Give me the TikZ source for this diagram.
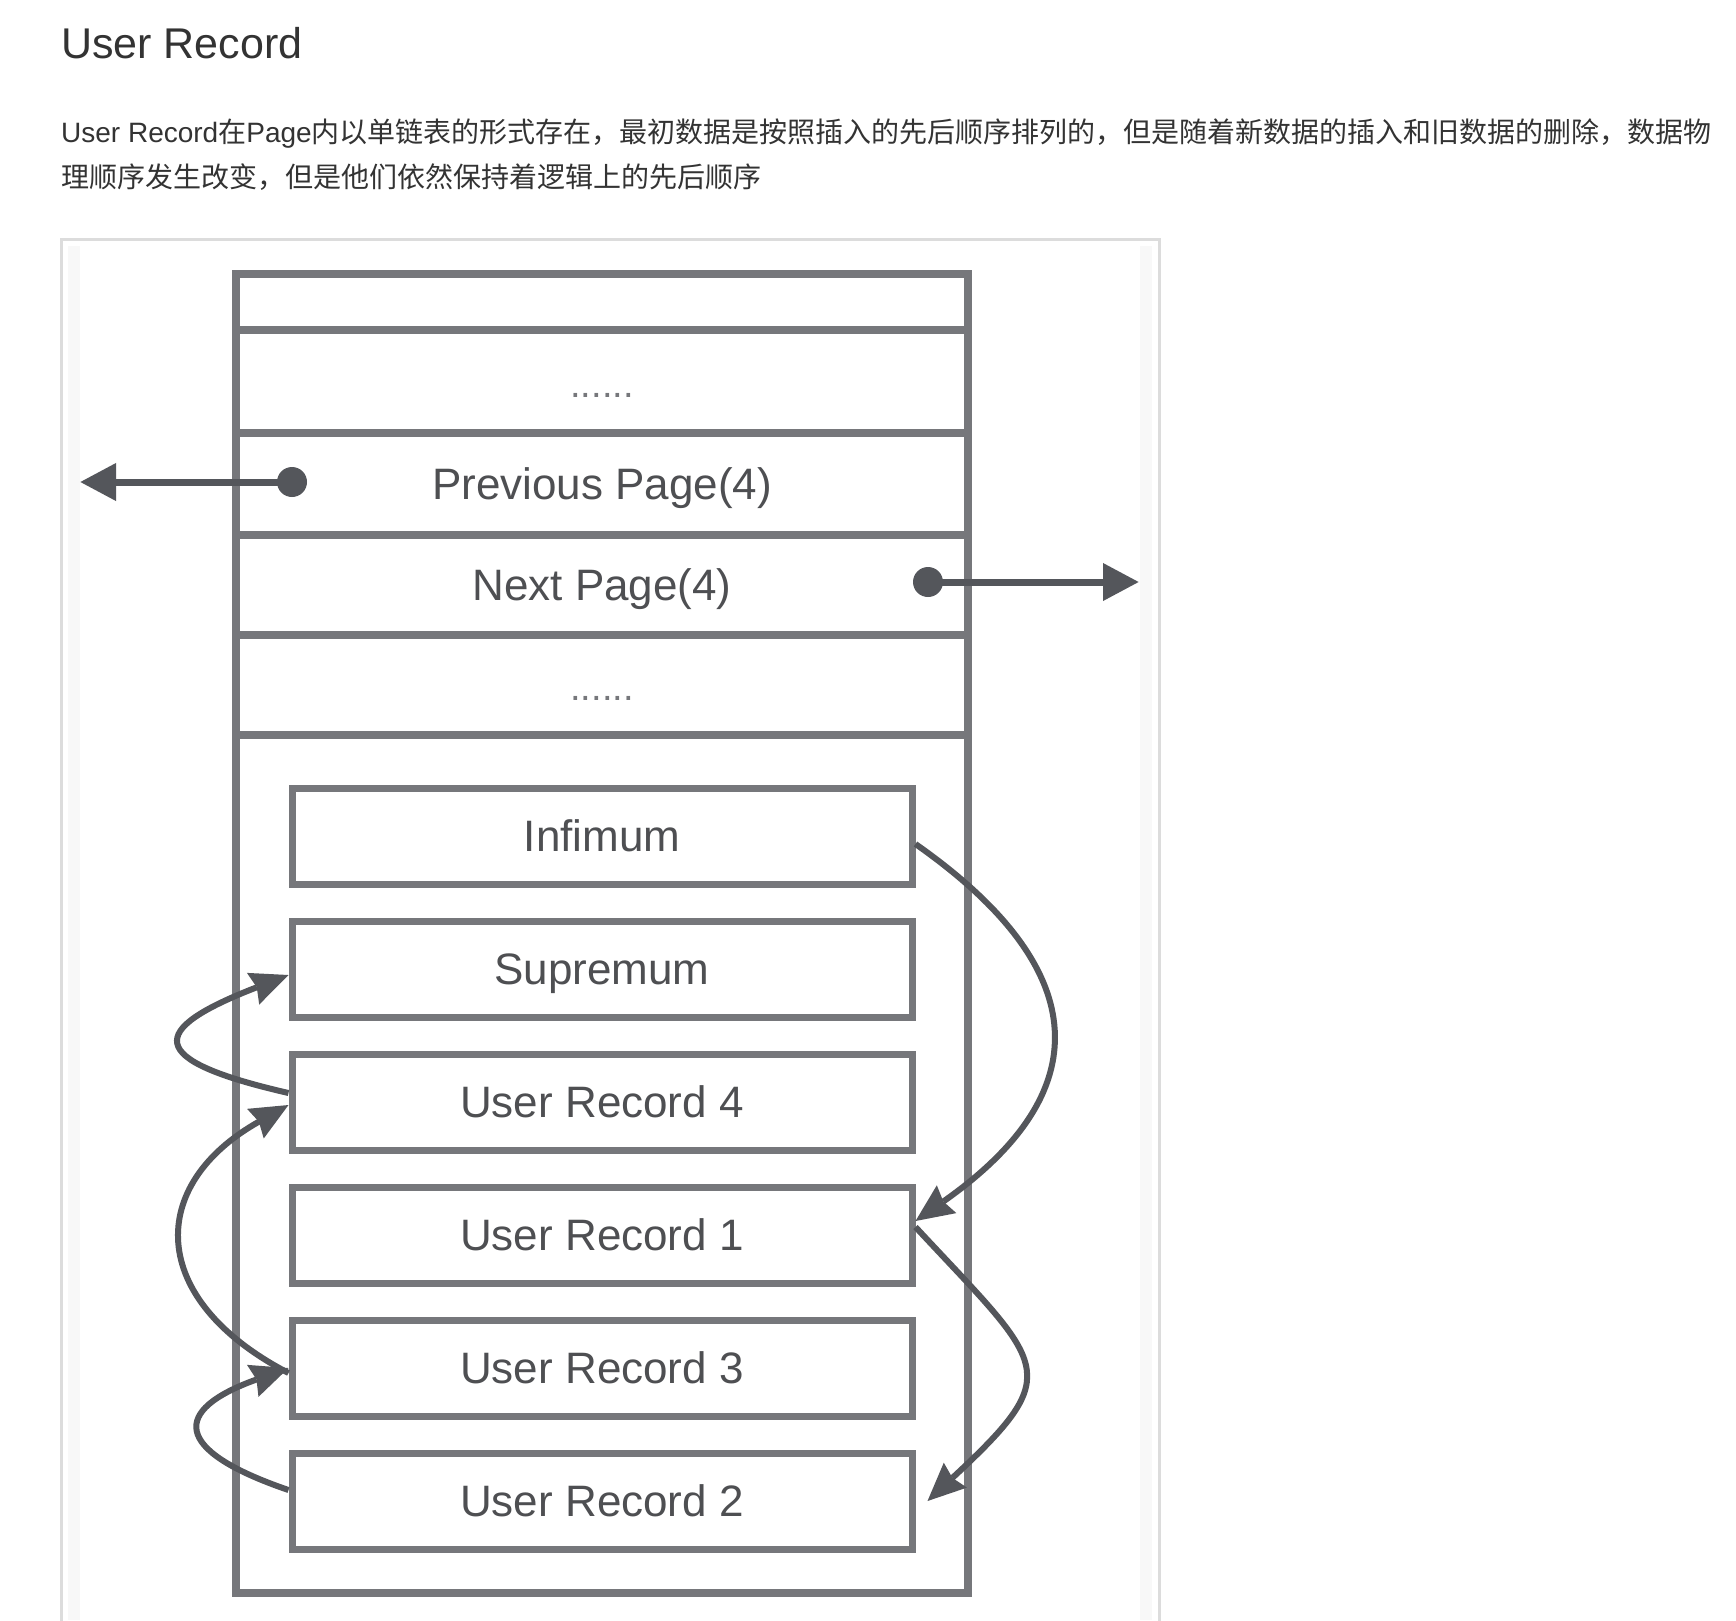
\documentclass[tikz,border=0pt]{standalone}
\usepackage{fontspec}
\setmainfont{Liberation Sans}
\newfontfamily\cjk{Noto Sans CJK SC}
\usetikzlibrary{arrows.meta}
\definecolor{txtdark}{HTML}{333333}
\definecolor{boxgray}{HTML}{76777B}
\definecolor{ptrgray}{HTML}{54565B}
\definecolor{labgray}{HTML}{4E4F52}
\definecolor{framegray}{HTML}{DCDCDC}
\definecolor{stripgray}{HTML}{F8F8F8}
\begin{document}
\begin{tikzpicture}[x=1pt,y=-1pt]
  \tikzstyle{para}=[anchor=base west, inner sep=0pt, text=txtdark, font=\fontsize{28}{34}\selectfont]
  \tikzstyle{cell}=[rectangle, draw=boxgray, line width=8pt, minimum width=732pt, inner sep=0pt,
                    text=labgray, text height=31.5pt, text depth=0pt, font=\fontsize{44}{52}\selectfont]
  \tikzstyle{dots}=[text=boxgray, font=\fontsize{38}{46}\selectfont]
  \tikzstyle{rec}=[cell, line width=7pt, minimum width=620pt, minimum height=96pt]
  \tikzstyle{link}=[draw=ptrgray, line width=6pt, -{Stealth[length=38pt, width=34pt, inset=4pt, line width=0pt]}]
  \tikzstyle{ptr}=[draw=ptrgray, line width=7pt, -{Triangle[length=36pt, width=36pt]}]

  \clip (0,0) rectangle (1736,1620);
  \fill[white] (0,0) rectangle (1736,1620);

  % heading and text
  \node[anchor=base west, inner sep=0pt, text=txtdark, font=\fontsize{43}{50}\selectfont] (title) at (61,58) {User Record};
  \node[para] (line1) at (61,142) {User Record{\cjk 在}Page{\cjk 内以单链表的形式存在，最初数据是按照插入的先后顺序排列的，但是随着新数据的插入和旧数据的删除，数据物}};
  \node[para] (line2) at (61,187) {\cjk 理顺序发生改变，但是他们依然保持着逻辑上的先后顺序};

  % image frame
  \fill[stripgray] (68,246) rectangle (80,1620);
  \fill[stripgray] (1140,246) rectangle (1152,1620);
  \draw[framegray, line width=3pt] (61,239) rectangle (1159,1660);

  % page
  \node[cell, minimum height=56.5pt] (hdr)   at (602,301.75) {};
  \node[cell, dots, minimum height=103pt] (dots1) at (602,381.5) {......};
  \node[cell, minimum height=102pt]  (prev)  at (602,484)    {Previous Page(4)};
  \node[cell, minimum height=100pt]  (next)  at (602,585)    {Next Page(4)};
  \node[cell, dots, minimum height=100pt] (dots2) at (602,685) {......};
  \node[cell, minimum height=858pt]  (body)  at (602,1164)   {};

  % records
  \node[rec] (inf) at (602,836)  {Infimum};
  \node[rec] (sup) at (602,969)  {Supremum};
  \node[rec] (ur4) at (602,1102) {User Record 4};
  \node[rec] (ur1) at (602,1235) {User Record 1};
  \node[rec] (ur3) at (602,1368) {User Record 3};
  \node[rec] (ur2) at (602,1501) {User Record 2};

  % page pointers
  \coordinate (prevdot) at (292,482);
  \coordinate (prevtip) at (80,482);
  \coordinate (nextdot) at (928,582);
  \coordinate (nexttip) at (1139,582);
  \fill[ptrgray] (prevdot) circle (15pt);
  \fill[ptrgray] (nextdot) circle (15pt);
  \draw[ptr] (prevdot) -- (prevtip);
  \draw[ptr] (nextdot) -- (nexttip);

  % record links
  \draw[link] ([yshift=-8pt]inf.east) .. controls +(181,127) and +(181,-127) .. ([yshift=14pt]ur1.east);
  \draw[link] ([yshift=8pt]ur1.east) .. controls +(130,140) and +(140,-130) .. ([xshift=12pt]ur2.east);
  \draw[link] ([yshift=11pt]ur2.west) .. controls +(-117,-40) and +(-117,42) .. (ur3.west);
  \draw[link] ([yshift=-5pt]ur3.west) .. controls +(-142,-74) and +(-142,80) .. ([yshift=-3pt]ur4.west);
  \draw[link] ([yshift=9pt]ur4.west) .. controls +(-144,-33) and +(-142,55) .. ([yshift=-6pt]sup.west);
\end{tikzpicture}
\end{document}
